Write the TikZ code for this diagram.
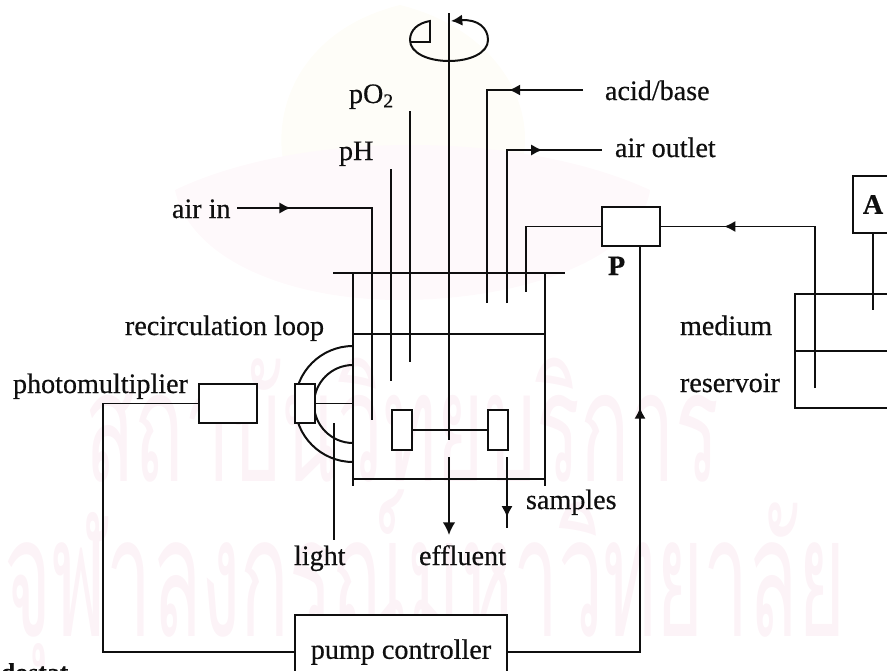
\documentclass[tikz,border=0pt]{standalone}
\usepackage{fontspec}
\setmainfont{Liberation Serif}[FakeBold=0.5]
\newfontfamily\thaifont[Script=Thai]{Loma}
\usetikzlibrary{positioning, arrows.meta, decorations.markings}
\definecolor{StampPink}{RGB}{252,243,247}
\definecolor{SealCream}{RGB}{254,253,248}
\definecolor{SealPink}{RGB}{254,249,251}
\definecolor{InkColor}{RGB}{15,15,15}
\begin{document}
\begin{tikzpicture}[x=0.03cm, y=-0.03cm, line width=1.7pt, draw=InkColor, text=InkColor,
    boxnode/.style={draw, fill=white, inner sep=0pt, minimum width=#1*0.03cm},
    labelnode/.style={inner sep=0pt, anchor=base west, font=\fontsize{24}{28}\selectfont},
    flowmark/.style={postaction={decorate, decoration={markings, mark=at position #1 with {\arrow{Latex[length=3.4mm, width=3.4mm]}}}}}]
  \useasboundingbox (0,0) rectangle (887,671);
  % faint stamp behind the drawing
  \fill[SealCream] (400,5) .. controls (300,30) and (270,110) .. (285,170) .. controls (330,200) and (470,200) .. (520,170) .. controls (540,110) and (500,30) .. (400,5);
  \fill[SealPink] (175,190) .. controls (300,130) and (520,130) .. (650,190) .. controls (640,260) and (520,300) .. (400,300) .. controls (290,300) and (190,260) .. (175,190);
  \node[StampPink, inner sep=0pt] (stampa) at (402,420) {\resizebox{19cm}{3.7cm}{\thaifont สถาบันวิทยบริการ}};
  \node[StampPink, inner sep=0pt] (stampb) at (425,585) {\resizebox{25.2cm}{4.4cm}{\thaifont จุฬาลงกรณ์มหาวิทยาลัย}};
  % vessel
  \draw (333,273) -- (565,273);
  \draw (353,273) -- (353,486);
  \draw (545,273) -- (545,486);
  \draw (353,479) -- (545,479);
  \draw (353,334) -- (545,334);
  % shaft and rotation mark
  \draw (449,13) -- (449,440);
  \draw[{Latex[length=3.4mm, width=3.4mm]}-] (451,21) .. controls (478,19) and (488,28) .. (488,40) .. controls (488,53) and (470,61) .. (449,61) .. controls (428,61) and (410,53) .. (410,40) .. controls (410,30) and (418,23) .. (430,21) -- (430,42) -- (410,42);
  % probes
  \draw (391,169) -- (391,381);
  \draw (410,111) -- (410,362);
  % impeller
  \node[boxnode=20, minimum height=40*0.03cm] (paddleleft) at (402,430) {};
  \node[boxnode=20, minimum height=40*0.03cm] (paddleright) at (497.5,430) {};
  \draw (paddleleft) -- (paddleright);
  % recirculation loop
  \draw (353,346) .. controls (321,346) and (295,372) .. (295,404) .. controls (295,436) and (321,462) .. (353,462);
  \draw (353,365) .. controls (331.5,365) and (314,382.5) .. (314,404) .. controls (314,425.5) and (331.5,443) .. (353,443);
  \node[boxnode=20, minimum height=39*0.03cm] (lightbox) at (305,403.5) {};
  \coordinate (wallpoint) at (353,403.5);
  \draw (lightbox) -- (wallpoint);
  \coordinate (lightend) at (334,540);
  \coordinate (lighttop) at (334,423);
  \draw (lighttop) -- (lightend);
  % boxes
  \node[boxnode=58, minimum height=39*0.03cm] (photobox) at (228,403.5) {};
  \node[boxnode=58, minimum height=39*0.03cm] (pbox) at (631,226.5) {};
  \node[boxnode=40, minimum height=57*0.03cm, font=\fontsize{24}{28}\selectfont\bfseries] (abox) at (873,204.5) {A};
  \node[boxnode=126, minimum height=114*0.03cm, fill=none] (resbox) at (858,351) {};
  \node[boxnode=212, minimum height=74*0.03cm, font=\fontsize{24}{28}\selectfont] (pumpbox) at (401,652) {pump controller};
  \draw (resbox.west) -- (resbox.east);
  % labels
  \node[labelnode] (phlabel) at (338,160) {pH};
  \node[labelnode] (polabel) at (348,103) {pO\textsubscript{2}};
  \node[labelnode] (airlabel) at (171,218) {air in};
  \node[labelnode] (acidlabel) at (604,100) {acid/base};
  \node[labelnode] (outlabel) at (614,157) {air outlet};
  \node[labelnode] (looplabel) at (124,335) {recirculation loop};
  \node[labelnode] (photolabel) at (12,393) {photomultiplier};
  \node[labelnode] (mediumlabel) at (679,335) {medium};
  \node[labelnode] (reslabel) at (679,392) {reservoir};
  \node[labelnode] (samplelabel) at (525,509) {samples};
  \node[labelnode] (lightlabel) at (293,565) {light};
  \node[labelnode] (efflabel) at (418,565) {effluent};
  \node[labelnode, font=\fontsize{24}{28}\selectfont\bfseries] (plabel) at (607,275) {P};
  \node[labelnode, font=\fontsize{22}{28}\selectfont\bfseries] (caplabel) at (0,681) {dostat};
  % connectors
  \coordinate (airstart) at (237,208);
  \coordinate (airend) at (372,420);
  \draw[flowmark=0.155] (airstart) -| (airend);
  \coordinate (acidstart) at (583,90);
  \coordinate (acidend) at (487,303);
  \draw[flowmark=0.24] (acidstart) -| (acidend);
  \coordinate (outstart) at (507,303);
  \coordinate (outend) at (602,150);
  \draw[flowmark=0.76] (outstart) |- (outend);
  \coordinate (feedend) at (526,292);
  \draw (pbox.west) -| (feedend);
  \coordinate (reslow) at (815,388);
  \draw[flowmark=0.8] (reslow) |- (pbox.east);
  \coordinate (astop) at (873,310);
  \draw (abox.south) -- (astop);
  \coordinate (ctrlbend) at (103,652);
  \draw (photobox.west) -| (ctrlbend) -- (pumpbox.west);
  \coordinate (pfoot) at (640,246);
  \draw[flowmark=0.7] (pumpbox.east) -| (pfoot);
  \coordinate (effstart) at (449,457);
  \coordinate (effend) at (449,535);
  \draw[-{Latex[length=3.8mm, width=3.8mm]}] (effstart) -- (effend);
  \coordinate (samplestart) at (507,457);
  \coordinate (sampleend) at (507,528);
  \draw[flowmark=0.85] (samplestart) -- (sampleend);
\end{tikzpicture}
\end{document}
